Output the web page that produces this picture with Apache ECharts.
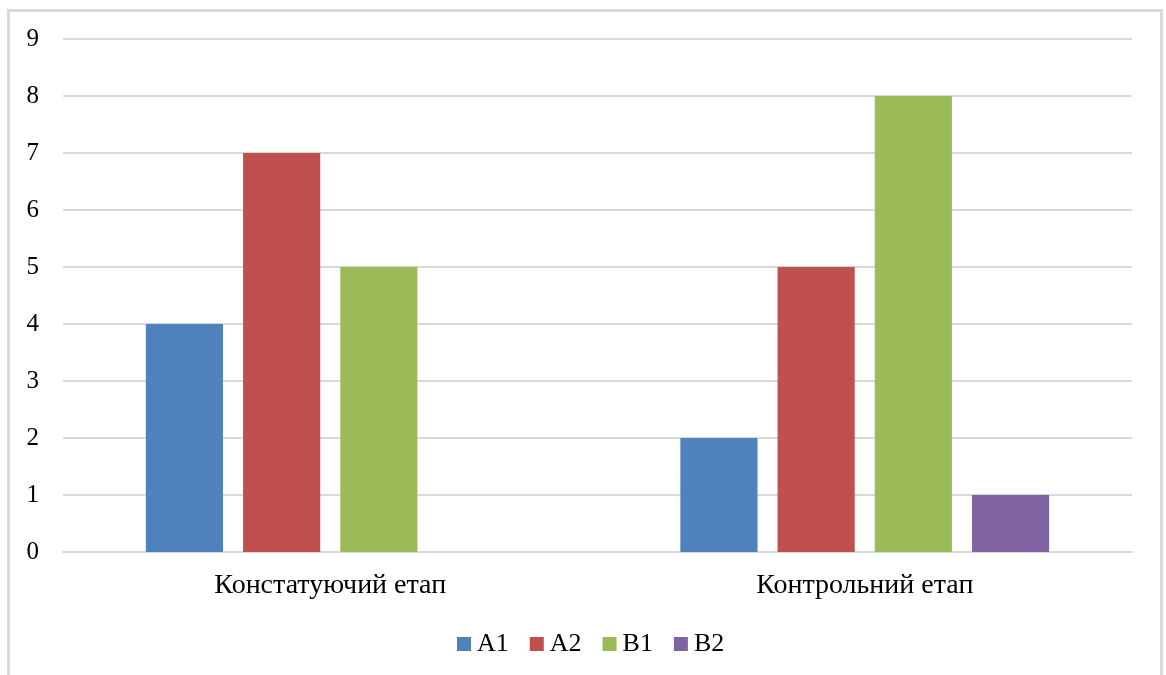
<!DOCTYPE html>
<html>
<head>
<meta charset="utf-8">
<script src="https://cdn.jsdelivr.net/npm/echarts@6/dist/echarts.min.js"></script>
<style>
  html, body { margin: 0; padding: 0; background: #fff; }
  #chart { width: 1166px; height: 675px; }
</style>
</head>
<body>
<div id="chart"></div>
<script>
// Stage categories and per-level counts
const categories = ['Констатуючий етап', 'Контрольний етап'];
const seriesNames = ['A1', 'A2', 'B1', 'B2'];
const valuesA1 = [4, 2];
const valuesA2 = [7, 5];
const valuesB1 = [5, 8];
const valuesB2 = [0, 1];
const yTicks = [0, 1, 2, 3, 4, 5, 6, 7, 8, 9];

const colors = ['#4F81BD', '#C0504D', '#9BBB59', '#8064A2'];
const seriesValues = [valuesA1, valuesA2, valuesB1, valuesB2];
const fontFamily = '"Liberation Serif", "Times New Roman", serif';

const chart = echarts.init(document.getElementById('chart'), null, { renderer: 'canvas' });

chart.setOption({
  animation: false,
  backgroundColor: '#ffffff',
  color: colors,
  graphic: [{
    type: 'rect',
    shape: { x: 8.5, y: 10.5, width: 1153, height: 720 },
    style: { fill: 'none', stroke: '#D9D9D9', lineWidth: 3 },
    silent: true
  }],
  grid: { left: 63, right: 34, top: 39, bottom: 123, containLabel: false },
  legend: {
    bottom: 13,
    left: 452,
    itemWidth: 14,
    itemHeight: 14,
    itemGap: 21,
    icon: 'rect',
    textStyle: { fontFamily, fontSize: 26, color: '#000', padding: [0, 0, 0, 1] },
    data: seriesNames
  },
  xAxis: {
    type: 'category',
    data: categories,
    axisLine: { show: true, lineStyle: { color: '#D9D9D9', width: 2 } },
    axisTick: { show: false },
    axisLabel: { fontFamily, fontSize: 28, color: '#000', margin: 20 }
  },
  yAxis: {
    type: 'value',
    min: yTicks[0],
    max: yTicks[yTicks.length - 1],
    interval: 1,
    axisLine: { show: false },
    axisTick: { show: false },
    splitLine: { lineStyle: { color: '#D9D9D9', width: 2 } },
    axisLabel: { fontFamily, fontSize: 25, color: '#000', margin: 24 }
  },
  series: seriesNames.map((name, i) => ({
    name,
    type: 'bar',
    data: seriesValues[i],
    barGap: '26%',
    barCategoryGap: '31%',
    itemStyle: { color: colors[i] }
  }))
});
</script>
</body>
</html>
